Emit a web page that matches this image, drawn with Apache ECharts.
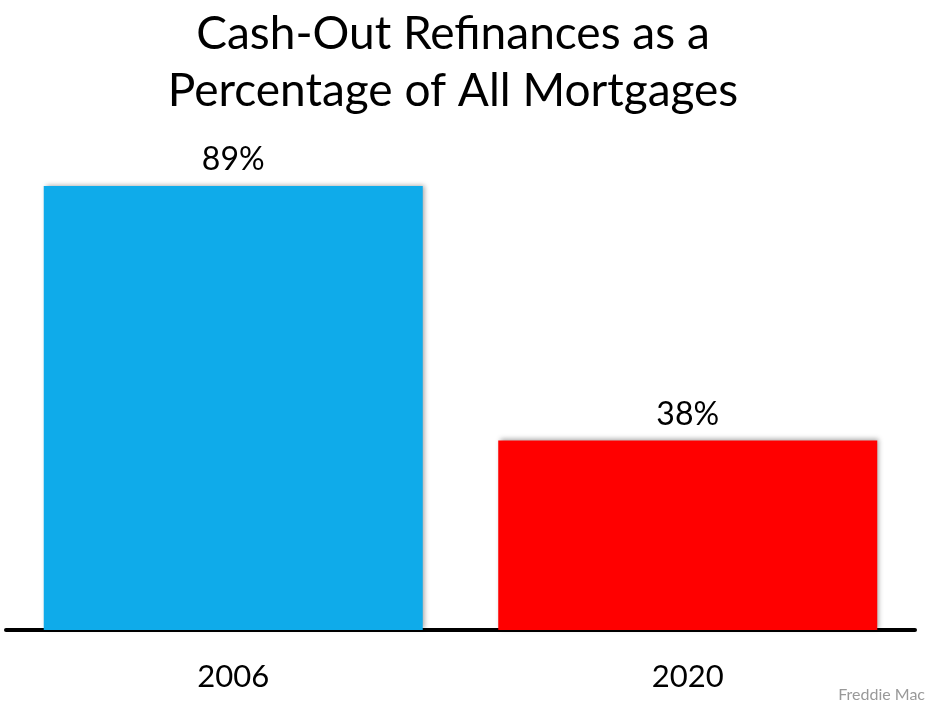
<!DOCTYPE html>
<html><head><meta charset="utf-8">
<script src="https://cdn.jsdelivr.net/npm/echarts@6/dist/echarts.min.js"></script>
<style>html,body{margin:0;padding:0;background:#fff}#c{width:942px;height:704px}</style>
</head><body><div id="c"></div>
<script>
const categories = ['2006', '2020'];
const values = [89, 38];
const colors = ['#0FABEA', '#FF0000'];
const titleText = 'Cash-Out Refinances as a\nPercentage of All Mortgages';
const sourceText = 'Freddie Mac';

const chart = echarts.init(document.getElementById('c'));
chart.setOption({
  animation: false,
  backgroundColor: '#fff',
  title: [{
    text: titleText,
    left: 448, textAlign: 'center', top: 1,
    textStyle: { fontFamily: 'Lato', fontSize: 46, fontWeight: 'normal', color: '#000', lineHeight: 57 }
  }, {
    text: sourceText, right: 12, top: 682,
    textStyle: { fontFamily: 'Lato', fontSize: 16, fontWeight: 'normal', color: '#999' }
  }],
  grid: { left: 6, right: 27, top: 131, bottom: 74 },
  xAxis: {
    type: 'category', data: categories,
    axisLine: { lineStyle: { color: '#000', width: 4 } },
    axisTick: { show: false },
    axisLabel: { fontFamily: 'Lato', fontSize: 31, color: '#000', margin: 31 }
  },
  yAxis: { type: 'value', min: 0, max: 100, show: false, splitLine: { show: false } },
  series: [{
    type: 'bar', barWidth: 379,
    data: values.map((v, i) => ({ value: v, itemStyle: { color: colors[i] } })),
    itemStyle: { shadowBlur: 5, shadowColor: 'rgba(0,0,0,0.35)', shadowOffsetX: 2, shadowOffsetY: -1 },
    label: { show: true, position: 'top', distance: 10, formatter: '{c}%', fontFamily: 'Lato', fontSize: 32, color: '#000' }
  }]
});
</script></body></html>
